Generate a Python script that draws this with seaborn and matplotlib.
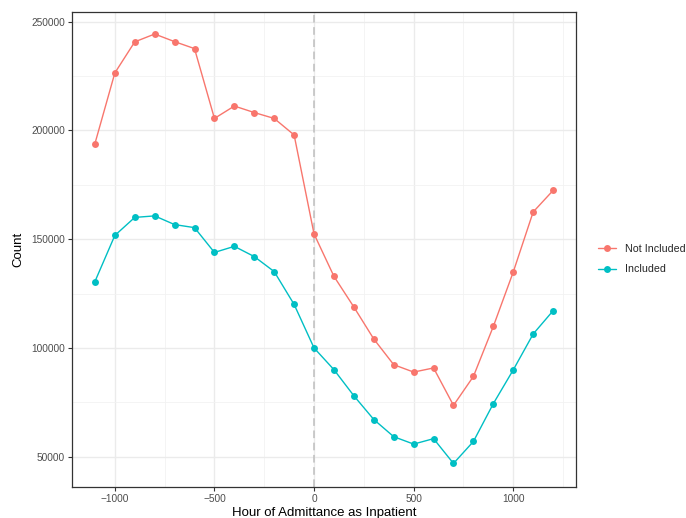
import matplotlib
matplotlib.use("Agg")
import matplotlib.pyplot as plt
from matplotlib.ticker import MultipleLocator, FixedLocator
import numpy as np
import pandas as pd
import seaborn as sns

# Hour of admittance bins (hours relative to admission)
hours = [-1100, -1000, -900, -800, -700, -600, -500, -400, -300, -200, -100,
         0, 100, 200, 300, 400, 500, 600, 700, 800, 900, 1000, 1100, 1200]

not_included = [193900, 226400, 240700, 244300, 240800, 237600, 205500, 211200,
                208200, 205500, 197900, 152400, 132900, 118800, 104100, 92300,
                88900, 90800, 73600, 86900, 109900, 134900, 162500, 172400]

included = [130500, 151700, 160000, 160700, 156700, 155300, 143900, 146700,
            142000, 135100, 120000, 100000, 90000, 78000, 67100, 59200,
            55800, 58300, 46900, 57000, 74400, 89900, 106400, 117100]

groups = ["Not Included", "Included"]
palette = {"Not Included": "#F8766D", "Included": "#00BFC4"}

df = pd.DataFrame({
    "hour": hours * 2,
    "count": not_included + included,
    "group": [groups[0]] * len(hours) + [groups[1]] * len(hours),
})

sns.set_theme(style="white")
plt.rcParams["font.family"] = ["Liberation Sans", "DejaVu Sans"]

fig = plt.figure(figsize=(6.86, 5.18), dpi=100)
ax = fig.add_axes([72 / 686, 1 - 487 / 518, (576 - 72) / 686, (487 - 12) / 518])

# grid (major + minor, theme_bw style)
ax.set_axisbelow(True)
ax.xaxis.set_major_locator(MultipleLocator(500))
ax.xaxis.set_minor_locator(FixedLocator([-750, -250, 250, 750, 1250]))
ax.yaxis.set_major_locator(MultipleLocator(50000))
ax.yaxis.set_minor_locator(FixedLocator([75000, 125000, 175000, 225000]))
ax.grid(which="major", color="#EBEBEB", linewidth=1.0)
ax.grid(which="minor", color="#F2F2F2", linewidth=0.6)

ax.axvline(0, color="#BEBEBE", linestyle=(0, (5, 3)), linewidth=1.1, zorder=1.5)

sns.lineplot(data=df, x="hour", y="count", hue="group", hue_order=groups,
             palette=palette, marker="o", markersize=5, markeredgewidth=0,
             linewidth=1.0, ax=ax, legend=True)

ax.set_xlim(-1215, 1315)
ax.set_ylim(36075, 254425)

ax.set_xlabel("Hour of Admittance as Inpatient", fontsize=9.5, color="black", labelpad=2)
ax.set_ylabel("Count", fontsize=9.5, color="black", labelpad=5)
ax.set_xticks([-1000, -500, 0, 500, 1000])
ax.set_xticklabels(["\u22121000", "\u2212500", "0", "500", "1000"])
ax.tick_params(axis="both", which="major", labelsize=7.3, labelcolor="#4D4D4D",
               color="#333333", length=3, width=0.8, pad=2, left=True, bottom=True)
ax.tick_params(axis="both", which="minor", length=0)

for s in ax.spines.values():
    s.set_color("#333333")
    s.set_linewidth(0.9)

leg = ax.legend(loc="center left", bbox_to_anchor=(1.025, 0.48), frameon=False,
                fontsize=7.7, handlelength=1.7, handletextpad=0.85, labelspacing=1.0,
                title=None)

fig.savefig("out.png", dpi=100)
